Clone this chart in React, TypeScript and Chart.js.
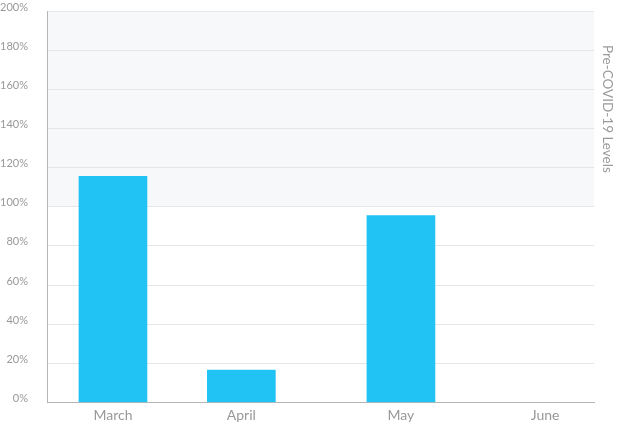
import React, { useEffect, useRef } from "react";
import { Chart, registerables } from "chart.js";

Chart.register(...registerables);

const categories = ["March", "April", "May", "June"];
const categoryPositions = [2.05, 6.04, 11.0, 15.48];
const axisRange = [0, 17];
const levelValues = [115.6, 16.6, 95.5, null];
const yTickValues = [0, 20, 40, 60, 80, 100, 120, 140, 160, 180, 200];
const bandRange = [100, 200];
const bandTitle = "Pre-COVID-19 Levels";

const FONT = "Lato, 'Open Sans', sans-serif";

const bandPlugin = {
  id: "band",
  beforeDraw(chart: any) {
    const { ctx, chartArea, scales } = chart;
    const y = scales.y;
    const top = y.getPixelForValue(bandRange[1]);
    const bottom = y.getPixelForValue(bandRange[0]);
    ctx.save();
    ctx.fillStyle = "#f7f8fa";
    ctx.fillRect(chartArea.left, top, chartArea.right - chartArea.left, bottom - top);
    ctx.restore();
  },
  afterDraw(chart: any) {
    const { ctx, chartArea, scales } = chart;
    const y = scales.y;
    const cy = y.getPixelForValue((bandRange[0] + bandRange[1]) / 2);
    const cx = chartArea.right + 13;
    ctx.save();
    ctx.translate(cx, cy);
    ctx.rotate(Math.PI / 2);
    ctx.font = `13.5px ${FONT}`;
    ctx.fillStyle = "#9a9a9a";
    ctx.textAlign = "center";
    ctx.textBaseline = "middle";
    ctx.fillText(bandTitle, 0, 0);
    ctx.restore();
  },
};

export default function App() {
  const canvasRef = useRef<HTMLCanvasElement | null>(null);

  useEffect(() => {
    if (!canvasRef.current) return;
    const chart = new Chart(canvasRef.current, {
      type: "bar",
      data: {
        datasets: [
          {
            data: categoryPositions.map((x, i) => ({ x, y: levelValues[i] })),
            backgroundColor: "#20c3f3",
            borderWidth: 0,
            barThickness: 68,
          },
        ],
      },
      options: {
        animation: false,
        responsive: true,
        maintainAspectRatio: false,
        layout: { padding: { top: 11, right: 24, left: 0, bottom: 0 } },
        plugins: {
          legend: { display: false },
          tooltip: { enabled: false },
        },
        scales: {
          x: {
            type: "linear",
            offset: false,
            min: axisRange[0],
            max: axisRange[1],
            grid: { display: false, drawTicks: false, offset: false },
            border: { display: true, color: "#b5b5b5", width: 1 },
            afterBuildTicks: (axis: any) => {
              axis.ticks = categoryPositions.map((v) => ({ value: v }));
            },
            afterFit: (axis: any) => {
              axis.height = 25.5;
              axis.paddingLeft = 0;
              axis.paddingRight = 0;
            },
            ticks: {
              autoSkip: false,
              maxRotation: 0,
              padding: 5,
              color: "#999999",
              font: { family: FONT, size: 14 },
              callback: (_v: any, i: number) => categories[i],
            },
          },
          y: {
            type: "linear",
            min: 0,
            max: 200,
            afterBuildTicks: (axis: any) => {
              axis.ticks = yTickValues.map((v) => ({ value: v }));
            },
            afterFit: (axis: any) => {
              axis.width = 47;
              axis.paddingTop = 0;
              axis.paddingBottom = 0;
            },
            grid: { color: "#e6e6e6", lineWidth: 1, drawTicks: false },
            border: { display: true, color: "#b5b5b5", width: 1 },
            ticks: {
              padding: 19,
              labelOffset: -4,
              color: "#999999",
              font: { family: FONT, size: 11 },
              callback: (v: any) => `${v}%`,
            },
          },
        },
      },
      plugins: [bandPlugin],
    });
    return () => chart.destroy();
  }, []);

  return (
    <div style={{ position: "absolute", left: 0, top: 0, width: 618, height: 428, background: "#fff" }}>
      <canvas ref={canvasRef} />
    </div>
  );
}
